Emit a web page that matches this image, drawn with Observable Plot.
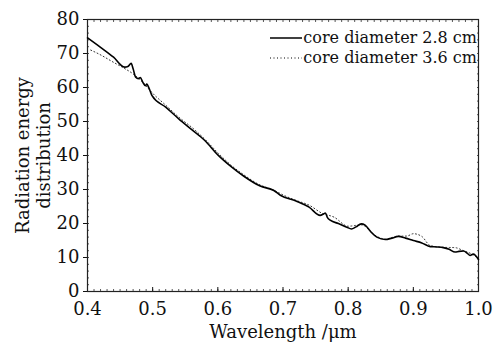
<!DOCTYPE html>
<html><head><meta charset="utf-8">
<script src="https://cdn.jsdelivr.net/npm/d3@7"></script>
<script src="https://cdn.jsdelivr.net/npm/@observablehq/plot@0.6"></script>
<style>
body{margin:0;background:#fff}
#c{position:relative;width:494px;height:343px;font-family:'DejaVu Serif'}
#c svg text{font-family:'DejaVu Serif'}
#legend{position:absolute;right:17px;top:28px;font-size:16px;color:#111;line-height:20px;font-family:'DejaVu Serif'}
#legend div{display:flex;align-items:center;justify-content:flex-end}
#legend svg{margin-right:1px}
</style>
</head><body><div id="c"></div>
<script>
const seriesNames = ["core diameter 2.8 cm", "core diameter 3.6 cm"];
const wlA = [0.400,0.420,0.440,0.457,0.462,0.467,0.470,0.474,0.478,0.481,0.485,0.489,0.491,0.495,0.499,0.52,0.54,0.56,0.58,0.60,0.62,0.64,0.665,0.686,0.696,0.72,0.74,0.757,0.762,0.765,0.768,0.773,0.785,0.798,0.805,0.812,0.82,0.826,0.835,0.844,0.857,0.867,0.877,0.888,0.90,0.913,0.926,0.936,0.946,0.955,0.964,0.97,0.977,0.983,0.987,0.992,1.0];
const valA = [74.6,71.8,68.9,66.0,66.2,67.1,65.5,63.0,62.6,62.9,61.5,60.5,61.0,59.5,57.6,54.2,50.8,47.6,44.4,40.2,36.8,33.9,31.0,29.7,28.3,26.6,24.8,22.4,22.8,23.1,21.8,20.9,20.0,18.9,18.4,19.0,19.9,19.5,17.5,16.0,15.3,15.7,16.2,15.7,15.0,14.3,13.2,13.1,12.9,12.4,11.6,11.8,11.9,11.2,10.6,11.0,9.4];
const wlB = [0.405,0.417,0.44,0.455,0.47,0.485,0.50,0.52,0.54,0.563,0.58,0.60,0.62,0.64,0.663,0.686,0.70,0.72,0.741,0.76,0.778,0.80,0.82,0.844,0.857,0.877,0.89,0.90,0.913,0.926,0.946,0.964,0.977,0.99,1.0];
const valB = [71.0,69.9,67.4,65.8,64.0,61.5,58.3,54.8,51.3,47.8,44.8,40.8,37.2,34.3,31.5,29.8,28.4,26.8,25.3,23.0,21.9,19.2,19.6,16.2,15.4,16.3,16.3,17.0,16.2,13.5,13.0,12.9,12.0,11.0,9.8];
const xTicks = [0.4,0.5,0.6,0.7,0.8,0.9,1.0];
const yTicks = [0,10,20,30,40,50,60,70,80];
const xLabel = "Wavelength /μm";
const yLabel = "Radiation energy\ndistribution";

const dataA = wlA.map((w,i)=>({w, v: valA[i]}));
const dataB = wlB.map((w,i)=>({w, v: valB[i]}));
const xMinor = d3.range(40,101,1).map(d=>d/100);
const yMinor = d3.range(0,81,2);

const chart = Plot.plot({
  width: 494, height: 343,
  marginLeft: 87, marginRight: 16, marginTop: 19, marginBottom: 52,
  style: {fontFamily: "'DejaVu Serif'", fontSize: "17px", color: "#111", background: "#fff"},
  x: {domain: [0.4, 1.0]},
  y: {domain: [0, 80]},
  marks: [
    Plot.axisX(xMinor, {anchor: "bottom", tickSize: -2, text: null, label: null, strokeWidth: 0.7}),
    Plot.axisX(xMinor, {anchor: "top", tickSize: -2, text: null, label: null, strokeWidth: 0.7}),
    Plot.axisY(yMinor, {anchor: "left", tickSize: -2, text: null, label: null, strokeWidth: 0.7}),
    Plot.axisY(yMinor, {anchor: "right", tickSize: -2, text: null, label: null, strokeWidth: 0.7}),
    Plot.axisX(xTicks, {anchor: "bottom", tickSize: -4, tickPadding: 15, tickFormat: d3.format(".1f"), label: null, fontSize: 18}),
    Plot.axisY(yTicks, {anchor: "left", tickSize: 4, tickPadding: 4, label: null, fontSize: 18}),
    Plot.frame({stroke: "#222", strokeWidth: 1.2}),
    Plot.line(dataB, {x: "w", y: "v", stroke: "#333", strokeWidth: 1, strokeDasharray: "1,2.5", curve: "monotone-x"}),
    Plot.line(dataA, {x: "w", y: "v", stroke: "#000", strokeWidth: 1.6, curve: "monotone-x"}),
    Plot.text([xLabel], {frameAnchor: "bottom", dy: 46, fontSize: 18}),
    Plot.text([yLabel], {frameAnchor: "left", dx: -55, rotate: -90, fontSize: 18, lineHeight: 1.2, textAnchor: "middle"})
  ]
});
const c = document.getElementById("c");
c.appendChild(chart);
const lg = document.createElement("div");
lg.id = "legend";
lg.innerHTML = seriesNames.map((n,i)=>`<div><svg width="32" height="10"><line x1="0" x2="32" y1="5" y2="5" stroke="#000" stroke-width="${i?1:1.5}" ${i?'stroke-dasharray="1,2.5"':''}/></svg><span>${n}</span></div>`).join("");
c.appendChild(lg);
</script>
</body></html>
